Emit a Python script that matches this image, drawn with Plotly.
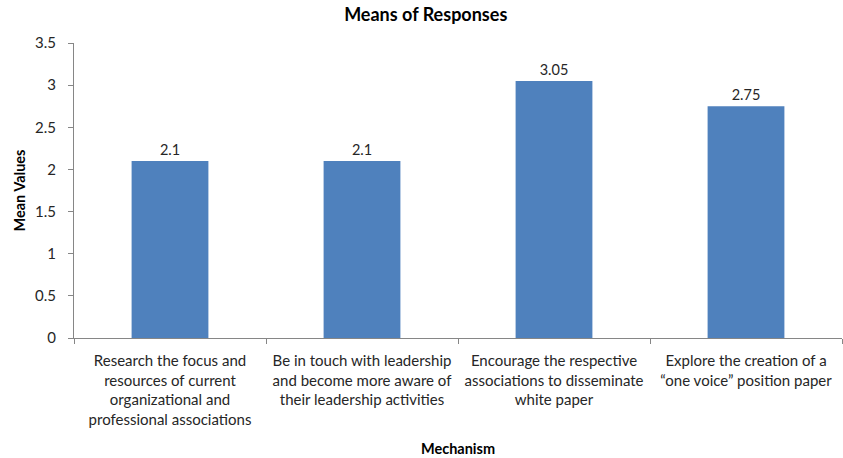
import plotly.graph_objects as go

categories = [
    "Research the focus and<br>resources of current<br>organizational and<br>professional associations",
    "Be in touch with leadership<br>and become more aware of<br>their leadership activities",
    "Encourage the respective<br>associations to disseminate<br>white paper",
    "Explore the creation of a<br>“one voice” position paper",
]
means = [2.1, 2.1, 3.05, 2.75]
value_labels = ["2.1", "2.1", "3.05", "2.75"]
y_ticks = [0, 0.5, 1, 1.5, 2, 2.5, 3, 3.5]
y_tick_labels = ["0", "0.5", "1", "1.5", "2", "2.5", "3", "3.5"]

FONT = "Lato"
fig = go.Figure(go.Bar(
    x=categories, y=means,
    marker=dict(color="#4F81BD", line=dict(width=0)),
    text=value_labels, textposition="outside",
    textfont=dict(family=FONT, size=14.5, color="#262626"),
    cliponaxis=False,
))
fig.update_layout(
    width=843, height=458,
    margin=dict(l=74, r=1, t=43, b=120),
    paper_bgcolor="white", plot_bgcolor="white",
    bargap=0.6,
    showlegend=False,
    font=dict(family=FONT, size=14, color="#262626"),
    title=dict(text="<b>Means of Responses</b>", x=0.505, xanchor="center",
               y=0.967, yanchor="middle",
               font=dict(family=FONT, size=18, color="#000000")),
)
fig.update_xaxes(
    automargin=False,
    showline=True, linecolor="#868686", linewidth=1,
    ticks="outside", tickson="boundaries", ticklen=5, tickcolor="#868686",
    ticklabelstandoff=9,
    tickfont=dict(family=FONT, size=15, color="#262626"),
    title=dict(text="<b>Mechanism</b>", font=dict(family=FONT, size=14.5, color="#000000"), standoff=17),
    showgrid=False,
)
fig.update_yaxes(
    automargin=False,
    range=[0, 3.5], tickvals=y_ticks, ticktext=y_tick_labels,
    showline=True, linecolor="#868686", linewidth=1,
    ticks="outside", ticklen=5, tickcolor="#868686",
    ticklabelstandoff=9,
    tickfont=dict(family=FONT, size=15, color="#262626"),
    title=dict(text="<b>Mean Values</b>", font=dict(family=FONT, size=14.5, color="#000000"), standoff=5),
    showgrid=False, zeroline=False,
)
fig.write_html("out.html", config={"displayModeBar": False},
               post_script="document.body.style.margin='0';document.body.style.overflow='hidden';")
